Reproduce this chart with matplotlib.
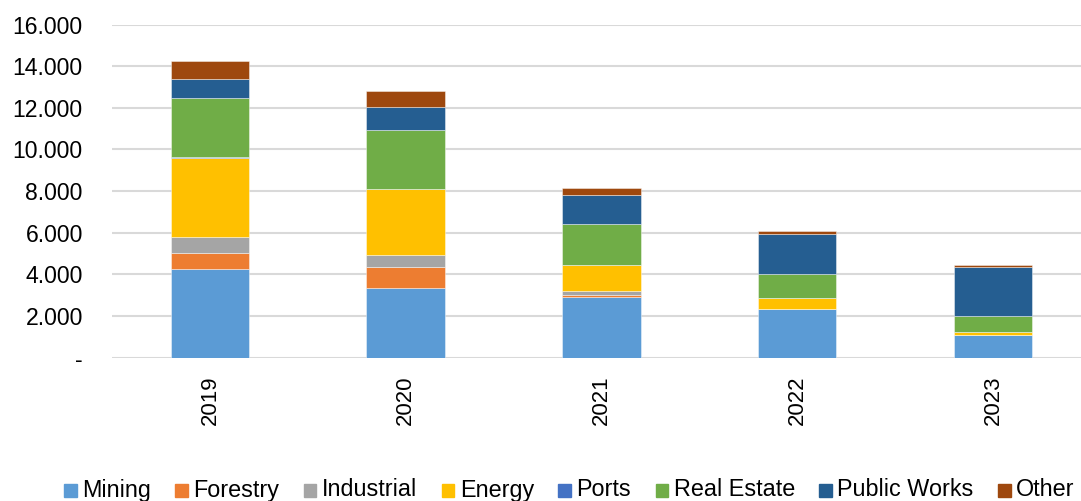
import numpy as np
import matplotlib
matplotlib.use("Agg")
import matplotlib.pyplot as plt
from matplotlib.patches import Rectangle
from matplotlib.ticker import FuncFormatter

plt.rcParams['font.family'] = ['Liberation Sans', 'DejaVu Sans']

years = ['2019', '2020', '2021', '2022', '2023']
sectors = ['Mining', 'Forestry', 'Industrial', 'Energy', 'Ports',
           'Real Estate', 'Public Works', 'Other']
mining = [4275, 3330, 2910, 2330, 1060]
forestry = [770, 1025, 110, 0, 0]
industrial = [750, 590, 195, 0, 0]
energy = [3795, 3140, 1250, 545, 177]
ports = [50, 0, 0, 0, 0]
real_estate = [2820, 2865, 1960, 1125, 755]
public_works = [930, 1090, 1380, 1945, 2345]
other = [880, 785, 355, 112, 97]

colors = ['#5B9BD5', '#ED7D31', '#A5A5A5', '#FFC000', '#4472C4',
          '#70AD47', '#255E91', '#9E480E']
series = [mining, forestry, industrial, energy, ports,
          real_estate, public_works, other]

W, H = 1081, 501
fig = plt.figure(figsize=(W/100, H/100), dpi=100)
ax = fig.add_axes([112/W, 1 - 357.5/H, 1 - 112/W, (357.5 - 24.5)/H])

x = np.arange(len(years))
bottom = np.zeros(len(years))
for name, vals, c in zip(sectors, series, colors):
    vals = np.array(vals, dtype=float)
    ax.bar(x, vals, width=0.4, bottom=bottom, color=c, label=name,
           edgecolor=(1, 1, 1, 0.5), linewidth=0.6, zorder=3)
    bottom += vals

ax.set_ylim(0, 16000)
ax.set_xlim(-0.5, 4.45)
ax.set_yticks(range(0, 16001, 2000))
ax.yaxis.set_major_formatter(FuncFormatter(
    lambda v, p: '-' if v == 0 else f'{int(v):,}'.replace(',', '.')))
ax.set_xticks(x)
ax.set_xticklabels(years, rotation=90)
ax.tick_params(axis='both', length=0, colors='black')
ax.tick_params(axis='y', labelsize=16.6, pad=21)
ax.tick_params(axis='x', labelsize=16, pad=13)
ax.grid(axis='y', color='#D9D9D9', linewidth=1.5, zorder=0)
for s in ax.spines.values():
    s.set_visible(False)

# legend laid out by hand so every label sits on one baseline
fig.canvas.draw()
r = fig.canvas.get_renderer()
xpos = 64.0
base = 496.5
sq = 12.5
for name, c in zip(sectors, colors):
    fig.patches.append(Rectangle((xpos/W, 1 - (base)/H), sq/W, sq/H,
                                 transform=fig.transFigure, color=c))
    t = fig.text((xpos + sq + 5.5)/W, 1 - base/H, name, fontsize=16.8,
                 va='baseline', ha='left')
    w = t.get_window_extent(r).width
    xpos += sq + 5.5 + w + 24.5

fig.savefig('out.png', dpi=100)
